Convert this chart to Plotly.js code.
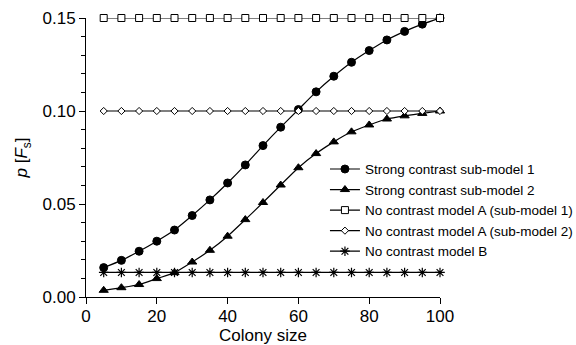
<!DOCTYPE html>
<html>
<head>
<meta charset="utf-8">
<script src="https://cdn.plot.ly/plotly-3.0.1.min.js"></script>
<style>html,body{margin:0;padding:0;background:#fff;}#chart{width:576px;height:345px;}</style>
</head>
<body>
<div id="chart"></div>
<script>
const colonySize = [5,10,15,20,25,30,35,40,45,50,55,60,65,70,75,80,85,90,95,100];
const strongSub1 = [0.0158,0.0197,0.0246,0.0300,0.0360,0.0438,0.0522,0.0613,0.0710,0.0814,0.0913,0.1008,0.1103,0.1187,0.1262,0.1325,0.1382,0.1428,0.1467,0.1500];
const strongSub2 = [0.0036,0.0050,0.0067,0.0099,0.0131,0.0188,0.0251,0.0327,0.0416,0.0508,0.0602,0.0695,0.0771,0.0834,0.0888,0.0925,0.0957,0.0974,0.0987,0.1000];
const noContrastA1 = [0.15,0.15,0.15,0.15,0.15,0.15,0.15,0.15,0.15,0.15,0.15,0.15,0.15,0.15,0.15,0.15,0.15,0.15,0.15,0.15];
const noContrastA2 = [0.10,0.10,0.10,0.10,0.10,0.10,0.10,0.10,0.10,0.10,0.10,0.10,0.10,0.10,0.10,0.10,0.10,0.10,0.10,0.10];
const noContrastB = [0.0132,0.0132,0.0132,0.0132,0.0132,0.0132,0.0132,0.0132,0.0132,0.0132,0.0132,0.0132,0.0132,0.0132,0.0132,0.0132,0.0132,0.0132,0.0132,0.0132];
const seriesNames = ["Strong contrast sub-model 1","Strong contrast sub-model 2","No contrast model A (sub-model 1)","No contrast model A (sub-model 2)","No contrast model B"];
const xTicks = [0,20,40,60,80,100];
const yTicks = [0,0.05,0.10,0.15];
const yTickText = ["0.00","0.05","0.10","0.15"];

function tr(y, name, symbol, size, filled) {
  return {
    x: colonySize, y: y, name: name, type: 'scatter', mode: 'lines+markers',
    cliponaxis: false,
    line: {color: '#000', width: 1.2, shape: 'spline', smoothing: 0.6},
    marker: {symbol: symbol, size: size, color: filled ? '#000' : '#fff', line: {color: '#000', width: 1}}
  };
}
const data = [
  tr(strongSub1, seriesNames[0], 'circle', 8, true),
  tr(strongSub2, seriesNames[1], 'triangle-up', 8, true),
  tr(noContrastA1, seriesNames[2], 'square', 7, false),
  tr(noContrastA2, seriesNames[3], 'diamond', 5.5, false),
  {x: colonySize, y: noContrastB, name: seriesNames[4], type: 'scatter', mode: 'lines+markers', cliponaxis: false,
   line: {color: '#000', width: 1.2}, marker: {symbol: 'asterisk-open', size: 8, color: '#000', line: {color: '#000', width: 1.2}}}
];
const font = {family: 'Liberation Sans, Arial, sans-serif', color: '#000'};
const layout = {
  width: 576, height: 345,
  margin: {l: 86, r: 136, t: 18, b: 48, autoexpand: false},
  paper_bgcolor: '#fff', plot_bgcolor: '#fff',
  font: Object.assign({size: 17}, font),
  showlegend: true,
  legend: {x: 0.675, y: 0.311, xanchor: 'left', yanchor: 'middle', bgcolor: 'rgba(0,0,0,0)', borderwidth: 0,
           font: Object.assign({size: 13.5}, font), tracegroupgap: 0},
  xaxis: {range: [0, 100], tickvals: xTicks, ticktext: xTicks.map(String), showgrid: false, zeroline: false,
          showline: true, linecolor: '#000', linewidth: 1, ticks: 'outside', ticklen: 6, tickcolor: '#000', tickwidth: 1,
          tickfont: Object.assign({size: 17}, font), automargin: false, ticklabelstandoff: -2,
          title: {text: 'Colony size', font: Object.assign({size: 17}, font), standoff: 8}},
  yaxis: {range: [0, 0.15], tickvals: yTicks, ticktext: yTickText, showgrid: false, zeroline: false,
          showline: true, linecolor: '#000', linewidth: 1, ticks: 'outside', ticklen: 6, tickcolor: '#000', tickwidth: 1,
          tickfont: Object.assign({size: 17}, font), automargin: false,
          minor: {dtick: 0.01, tick0: 0, ticks: 'outside', ticklen: 4, tickcolor: '#000', tickwidth: 1, showgrid: false},
          title: {text: '<i>p</i> [<i>F</i><sub>s</sub>]', font: Object.assign({size: 17}, font), standoff: 10}}
};
Plotly.newPlot('chart', data, layout, {displayModeBar: false, staticPlot: true});
</script>
</body>
</html>
